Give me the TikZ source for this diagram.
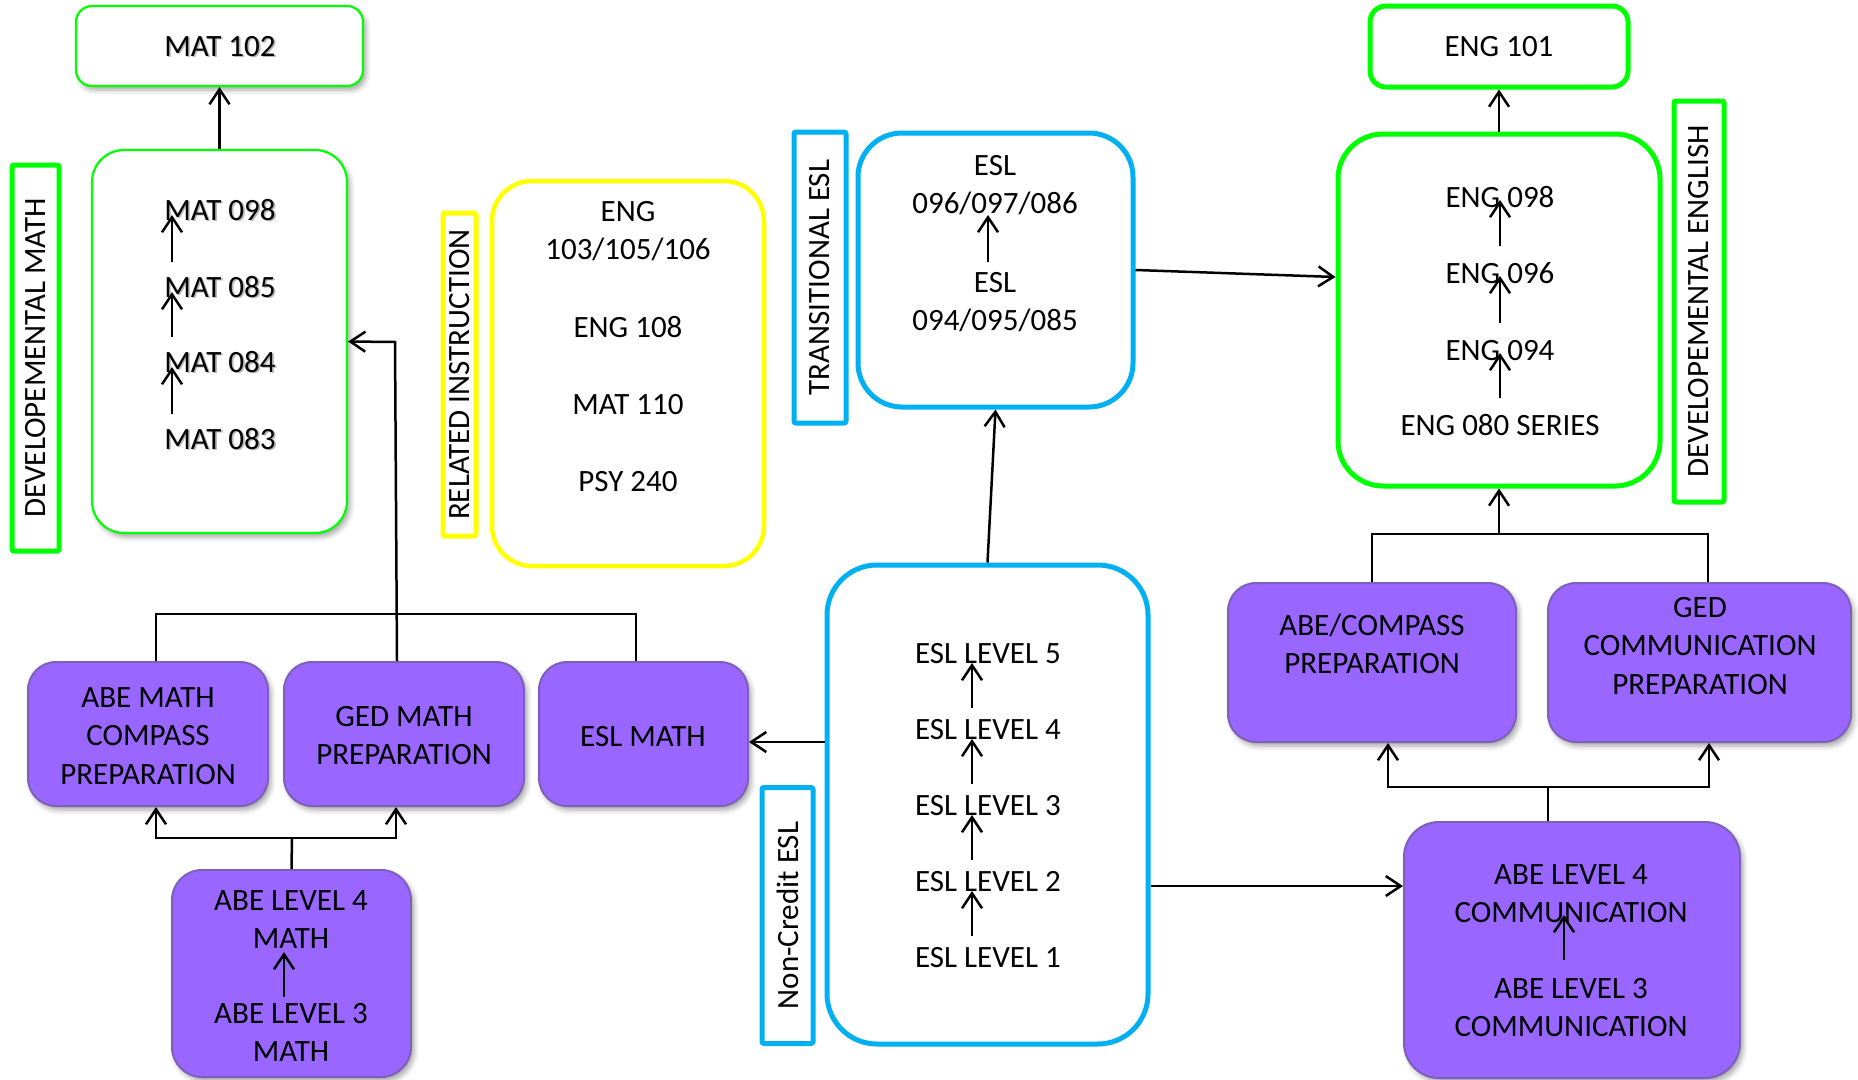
\documentclass[tikz,border=0pt]{standalone}
\usepackage{fontspec}
\setmainfont{Carlito}
\usetikzlibrary{arrows.meta,shadows.blur,calc}
\definecolor{purf}{RGB}{153,102,255}
\definecolor{purd}{RGB}{125,96,185}
\definecolor{grn}{RGB}{0,255,0}
\definecolor{blu}{RGB}{0,176,240}
\definecolor{yel}{RGB}{255,255,0}
\newcommand\tsh[1]{\leavevmode\rlap{\kern1.6pt\raisebox{-1.6pt}{\color{black!28}#1}}#1}
\tikzset{
 sz/.style 2 args={minimum width=#1,minimum height=#2,inner sep=0pt},
 shad/.style={blur shadow={shadow xshift=3pt,shadow yshift=-4pt,shadow blur radius=5pt,shadow opacity=35}},
 grthin/.style={draw=grn,line width=2.2pt,fill=white,shad},
 grthick/.style={draw=grn,line width=5pt,fill=white},
 blubox/.style={draw=blu,line width=5pt,fill=white},
 yelbox/.style={draw=yel,line width=4.5pt,fill=white},
 purbox/.style={draw=purd,line width=2pt,fill=purf,rounded corners=28pt,shad},
 lbl/.style={rotate=90,line width=5pt,rounded corners=2pt,inner sep=0pt},
 txt/.style={anchor=base,align=center,inner sep=0pt},
 conn/.style={line width=2.5pt},
 arr/.style={line width=2.5pt,-{Straight Barb[length=15pt,width=20pt]}},
}
\begin{document}
\begin{tikzpicture}[x=1pt,y=-1pt,every node/.style={font=\fontsize{31}{38.5}\selectfont}]
\useasboundingbox (0,0) rectangle (1858,1079);
% boxes
\node[grthin,rounded corners=16pt,sz={287}{80}] (mat102) at (219.5,46) {};
\node[grthin,rounded corners=32pt,sz={255}{383}] (mathdev) at (219.5,341.5) {};
\node[lbl,draw=grn,sz={386}{47}] (lblmath) at (35.5,358) {DEVELOPEMENTAL MATH};
\node[lbl,draw=yel,sz={323}{33}] (lblrel) at (459.5,374.5) {RELATED INSTRUCTION};
\node[yelbox,rounded corners=40pt,sz={272}{385}] (rel) at (628,373.5) {};
\node[lbl,draw=blu,sz={291}{52}] (lbltrans) at (820,277.5) {TRANSITIONAL ESL};
\node[blubox,rounded corners=44pt,sz={275}{274}] (trans) at (995.5,270) {};
\node[grthick,rounded corners=16pt,sz={258}{81}] (eng101) at (1499,46.5) {};
\node[grthick,rounded corners=45pt,sz={322}{352}] (engbox) at (1499,310) {};
\node[lbl,draw=grn,sz={401}{50}] (lbleng) at (1699,301.5) {DEVELOPEMENTAL ENGLISH};
\node[blubox,rounded corners=50pt,sz={321}{479}] (noncr) at (987.5,804.5) {};
\node[lbl,draw=blu,sz={256}{51}] (lblnon) at (787.5,915.5) {Non-Credit ESL};
\node[purbox,sz={288}{159}] (abecomp) at (1372,662.5) {};
\node[purbox,sz={303}{159}] (gedcomm) at (1699.5,662.5) {};
\node[purbox,rounded corners=35pt,sz={336}{256}] (abe4comm) at (1572,950) {};
\node[purbox,sz={240}{144}] (abemath) at (148,734) {};
\node[purbox,sz={240}{144}] (gedmath) at (404,734) {};
\node[purbox,sz={209}{144}] (eslmath) at (643.5,734) {};
\node[purbox,rounded corners=30pt,sz={239}{207}] (abe4math) at (291.5,973.5) {};
% texts (anchor = baseline of last line)
\node[txt] (t102) at (220,56) {\tsh{MAT 102}};
\node[txt] (m98) at (220,220) {\tsh{MAT 098}};
\node[txt] (m85) at (220,297) {\tsh{MAT 085}};
\node[txt] (m84) at (220,372) {\tsh{MAT 084}};
\node[txt] (m83) at (220,449) {\tsh{MAT 083}};
\node[txt] (r1) at (628,259.5) {ENG\\103/105/106};
\node[txt] (r2) at (628,337) {ENG 108};
\node[txt] (r3) at (628,414) {MAT 110};
\node[txt] (r4) at (628,491) {PSY 240};
\node[txt] (t1) at (995,213.5) {ESL\\096/097/086};
\node[txt] (t2) at (995,330.5) {ESL\\094/095/085};
\node[txt] (t101) at (1499,56.5) {ENG 101};
\node[txt] (e98) at (1500,207) {ENG 098};
\node[txt] (e96) at (1500,283) {ENG 096};
\node[txt] (e94) at (1500,360) {ENG 094};
\node[txt] (e80) at (1500,435) {ENG 080 SERIES};
\node[txt] (n5) at (988,663) {ESL LEVEL 5};
\node[txt] (n4) at (988,739) {ESL LEVEL 4};
\node[txt] (n3) at (988,815) {ESL LEVEL 3};
\node[txt] (n2) at (988,891) {ESL LEVEL 2};
\node[txt] (n1) at (988,967) {ESL LEVEL 1};
\node[txt] (x1) at (148,784) {ABE MATH\\COMPASS\\PREPARATION};
\node[txt] (x2) at (404,764.5) {GED MATH\\PREPARATION};
\node[txt] (x3) at (643,746) {ESL MATH};
\node[txt] (x4) at (1372,673.5) {ABE/COMPASS\\PREPARATION};
\node[txt] (x5) at (1700,694) {GED\\COMMUNICATION\\PREPARATION};
\node[txt] (a4m) at (291,948.5) {ABE LEVEL 4\\MATH};
\node[txt] (a3m) at (291,1061.5) {ABE LEVEL 3\\MATH};
\node[txt] (c4) at (1571,922.5) {ABE LEVEL 4\\COMMUNICATION};
\node[txt] (c3) at (1571,1036.5) {ABE LEVEL 3\\COMMUNICATION};
% inner arrows
\draw[arr] ($(m85.base)+(-48,-35)$) -- ($(m98.base)+(-48,-5)$);
\draw[arr] ($(m84.base)+(-48,-35)$) -- ($(m85.base)+(-48,-5)$);
\draw[arr] ($(m83.base)+(-48,-35)$) -- ($(m84.base)+(-48,-5)$);
\draw[arr] ($(t2.base)+(-7,-68.5)$) -- ($(t1.base)+(-7,1.5)$);
\draw[arr] ($(e96.base)+(0,-37)$) -- ($(e98.base)+(0,-7)$);
\draw[arr] ($(e94.base)+(0,-37)$) -- ($(e96.base)+(0,-7)$);
\draw[arr] ($(e80.base)+(0,-37)$) -- ($(e94.base)+(0,-7)$);
\draw[arr] ($(n4.base)+(-16,-31)$) -- ($(n5.base)+(-16,0)$);
\draw[arr] ($(n3.base)+(-16,-31)$) -- ($(n4.base)+(-16,0)$);
\draw[arr] ($(n2.base)+(-16,-31)$) -- ($(n3.base)+(-16,0)$);
\draw[arr] ($(n1.base)+(-16,-31)$) -- ($(n2.base)+(-16,0)$);
\draw[arr] ($(a3m.base)+(-7,-64.5)$) -- ($(a4m.base)+(-7,3.5)$);
\draw[arr] ($(c3.base)+(-7,-76.5)$) -- ($(c4.base)+(-7,-7.5)$);
% connectors
\draw[arr] (mathdev) -- (mat102);
\draw[arr] (engbox) -- (eng101);
\draw[arr] (trans.east) -- ([yshift=33pt]engbox.west);
\draw[arr] (noncr.north) -- (trans.south);
\draw[arr] ([yshift=62.5pt]noncr.west) -- ([yshift=-8pt]eslmath.east);
\draw[arr] ([yshift=-81.5pt]noncr.east) -- ([yshift=64pt]abe4comm.west);
\coordinate (cb) at (1548,787);
\draw[conn] ([xshift=-24pt]abe4comm.north) -- (cb);
\draw[arr] (cb) -| ([xshift=16pt]abecomp.south);
\draw[arr] (cb) -| ([xshift=9.5pt]gedcomm.south);
\coordinate (eb) at (1499,534);
\coordinate (gct) at ([xshift=8.5pt]gedcomm.north);
\draw[conn] (abecomp.north) |- (gct |- eb) -- (gct);
\draw[arr] (eb) -- (engbox.south);
\coordinate (lb) at (397,614);
\coordinate (amt) at ([xshift=8pt]abemath.north);
\coordinate (emt) at ([xshift=-7.5pt]eslmath.north);
\draw[conn] (amt) |- (emt |- lb) -- (emt);
\coordinate (gmt) at ([xshift=-7pt]gedmath.north);
\coordinate (gc) at (395,342);
\draw[arr] (gmt) -- (gc) -- (mathdev.east);
\coordinate (mb) at (292,838);
\draw[conn] (abe4math.north) -- (mb);
\draw[arr] (mb) -| ([xshift=8pt]abemath.south);
\draw[arr] (mb) -| ([xshift=-8pt]gedmath.south);
\end{tikzpicture}
\end{document}
